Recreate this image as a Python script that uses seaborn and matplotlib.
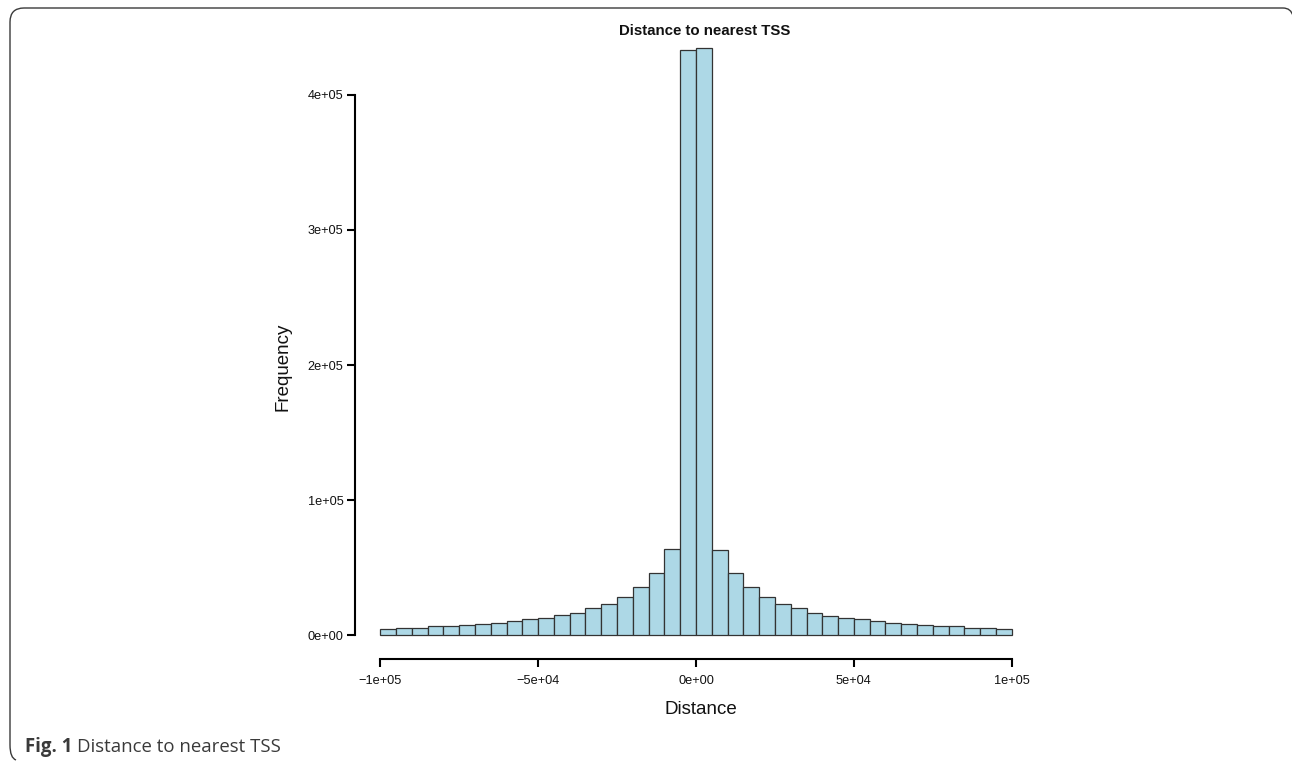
import numpy as np
import pandas as pd
import matplotlib
matplotlib.use("Agg")
import matplotlib.pyplot as plt
from matplotlib.path import Path
from matplotlib.patches import PathPatch
import seaborn as sns

# =========================
# DATA
# =========================
bin_width = 5000
bin_starts = np.arange(-100000, 100000, bin_width)
counts = [
    4700, 5600, 5800, 6900, 7100, 7600, 8400, 8900, 10600, 11800,
    12800, 14800, 16700, 20200, 23200, 28600, 35500, 45900, 63600, 433400,
    434900, 63100, 45900, 35500, 28600, 23200, 20200, 16700, 14500, 12600,
    11800, 10400, 9100, 8100, 7900, 7100, 6700, 5400, 5700, 4700,
]
x_ticks = [-100000, -50000, 0, 50000, 100000]
x_tick_labels = ["\u22121e+05", "\u22125e+04", "0e+00", "5e+04", "1e+05"]
y_ticks = [0, 100000, 200000, 300000, 400000]
y_tick_labels = ["0e+00", "1e+05", "2e+05", "3e+05", "4e+05"]

df = pd.DataFrame({"distance": bin_starts + bin_width / 2, "count": counts})

# =========================
# STYLE
# =========================
sns.set_style("ticks")
plt.rcParams["font.family"] = ["Liberation Sans", "DejaVu Sans"]

W, H = 1292, 761
fig = plt.figure(figsize=(W / 100, H / 100), dpi=100)

# axes placed by pixel box (left, top, right, bottom)
ax_l, ax_t, ax_r, ax_b = 355, 23.9, 1037, 659
ax = fig.add_axes([ax_l / W, 1 - ax_b / H, (ax_r - ax_l) / W, (ax_b - ax_t) / H])

sns.histplot(data=df, x="distance", weights="count", binwidth=bin_width,
             binrange=(-100000, 100000),
             color="#ADD8E6", edgecolor="#333333", linewidth=0.9, alpha=1.0, ax=ax)

ax.set_xlim(-108000, 108000)
ax.set_ylim(-17500, 452400)
ax.set_xticks(x_ticks)
ax.set_xticklabels(x_tick_labels)
ax.set_yticks(y_ticks)
ax.set_yticklabels(y_tick_labels)
ax.set_xlabel("")
ax.set_ylabel("")

for side in ["top", "right"]:
    ax.spines[side].set_visible(False)
ax.spines["left"].set_bounds(0, 400000)
ax.spines["bottom"].set_bounds(-100000, 100000)
for side in ["left", "bottom"]:
    ax.spines[side].set_linewidth(1.5)
    ax.spines[side].set_color("black")
ax.tick_params(axis="both", length=5.8, width=1.5, color="black", labelsize=9.2, labelcolor="#111111")
ax.tick_params(axis="x", pad=6)
ax.tick_params(axis="y", pad=2.5)

# titles / axis labels
fig.text(705 / W, 1 - 31 / H, "Distance to nearest TSS", ha="center", va="center",
         fontsize=10.8, fontweight="bold", color="#111111")
fig.text(700.7 / W, 1 - 710 / H, "Distance", ha="center", va="center", fontsize=13.5, color="#111111")
fig.text(283 / W, 1 - 366.7 / H, "Frequency", ha="center", va="center", rotation=90,
         fontsize=13.5, color="#111111")

# frame around the figure panel
def px(x, y):
    return (x / W, 1 - y / H)

verts = [px(1293, 16), px(1291, 8), px(1283, 8),
         px(24, 8), px(10, 8), px(10, 22),
         px(10, 745), px(10, 758), px(16, 760)]
codes = [Path.MOVETO, Path.CURVE3, Path.CURVE3,
         Path.LINETO, Path.CURVE3, Path.CURVE3,
         Path.LINETO, Path.CURVE3, Path.CURVE3]
fig.add_artist(PathPatch(Path(verts, codes), transform=fig.transFigure, fill=False,
                         edgecolor="#3a3a3a", linewidth=1.0))

# caption
cap_y = 1 - 747 / H
t1 = fig.text(25 / W, cap_y, "Fig. 1", ha="left", va="center", fontsize=13.4,
              fontweight="bold", color="#3a3a3a", family=["Open Sans", "DejaVu Sans"])
renderer = fig.canvas.get_renderer()
bb = t1.get_window_extent(renderer)
fig.text((bb.x1 + 5) / W, cap_y, "Distance to nearest TSS", ha="left", va="center",
         fontsize=13.4, color="#3a3a3a", family=["Open Sans", "DejaVu Sans"])

fig.savefig("out.png", dpi=100)
